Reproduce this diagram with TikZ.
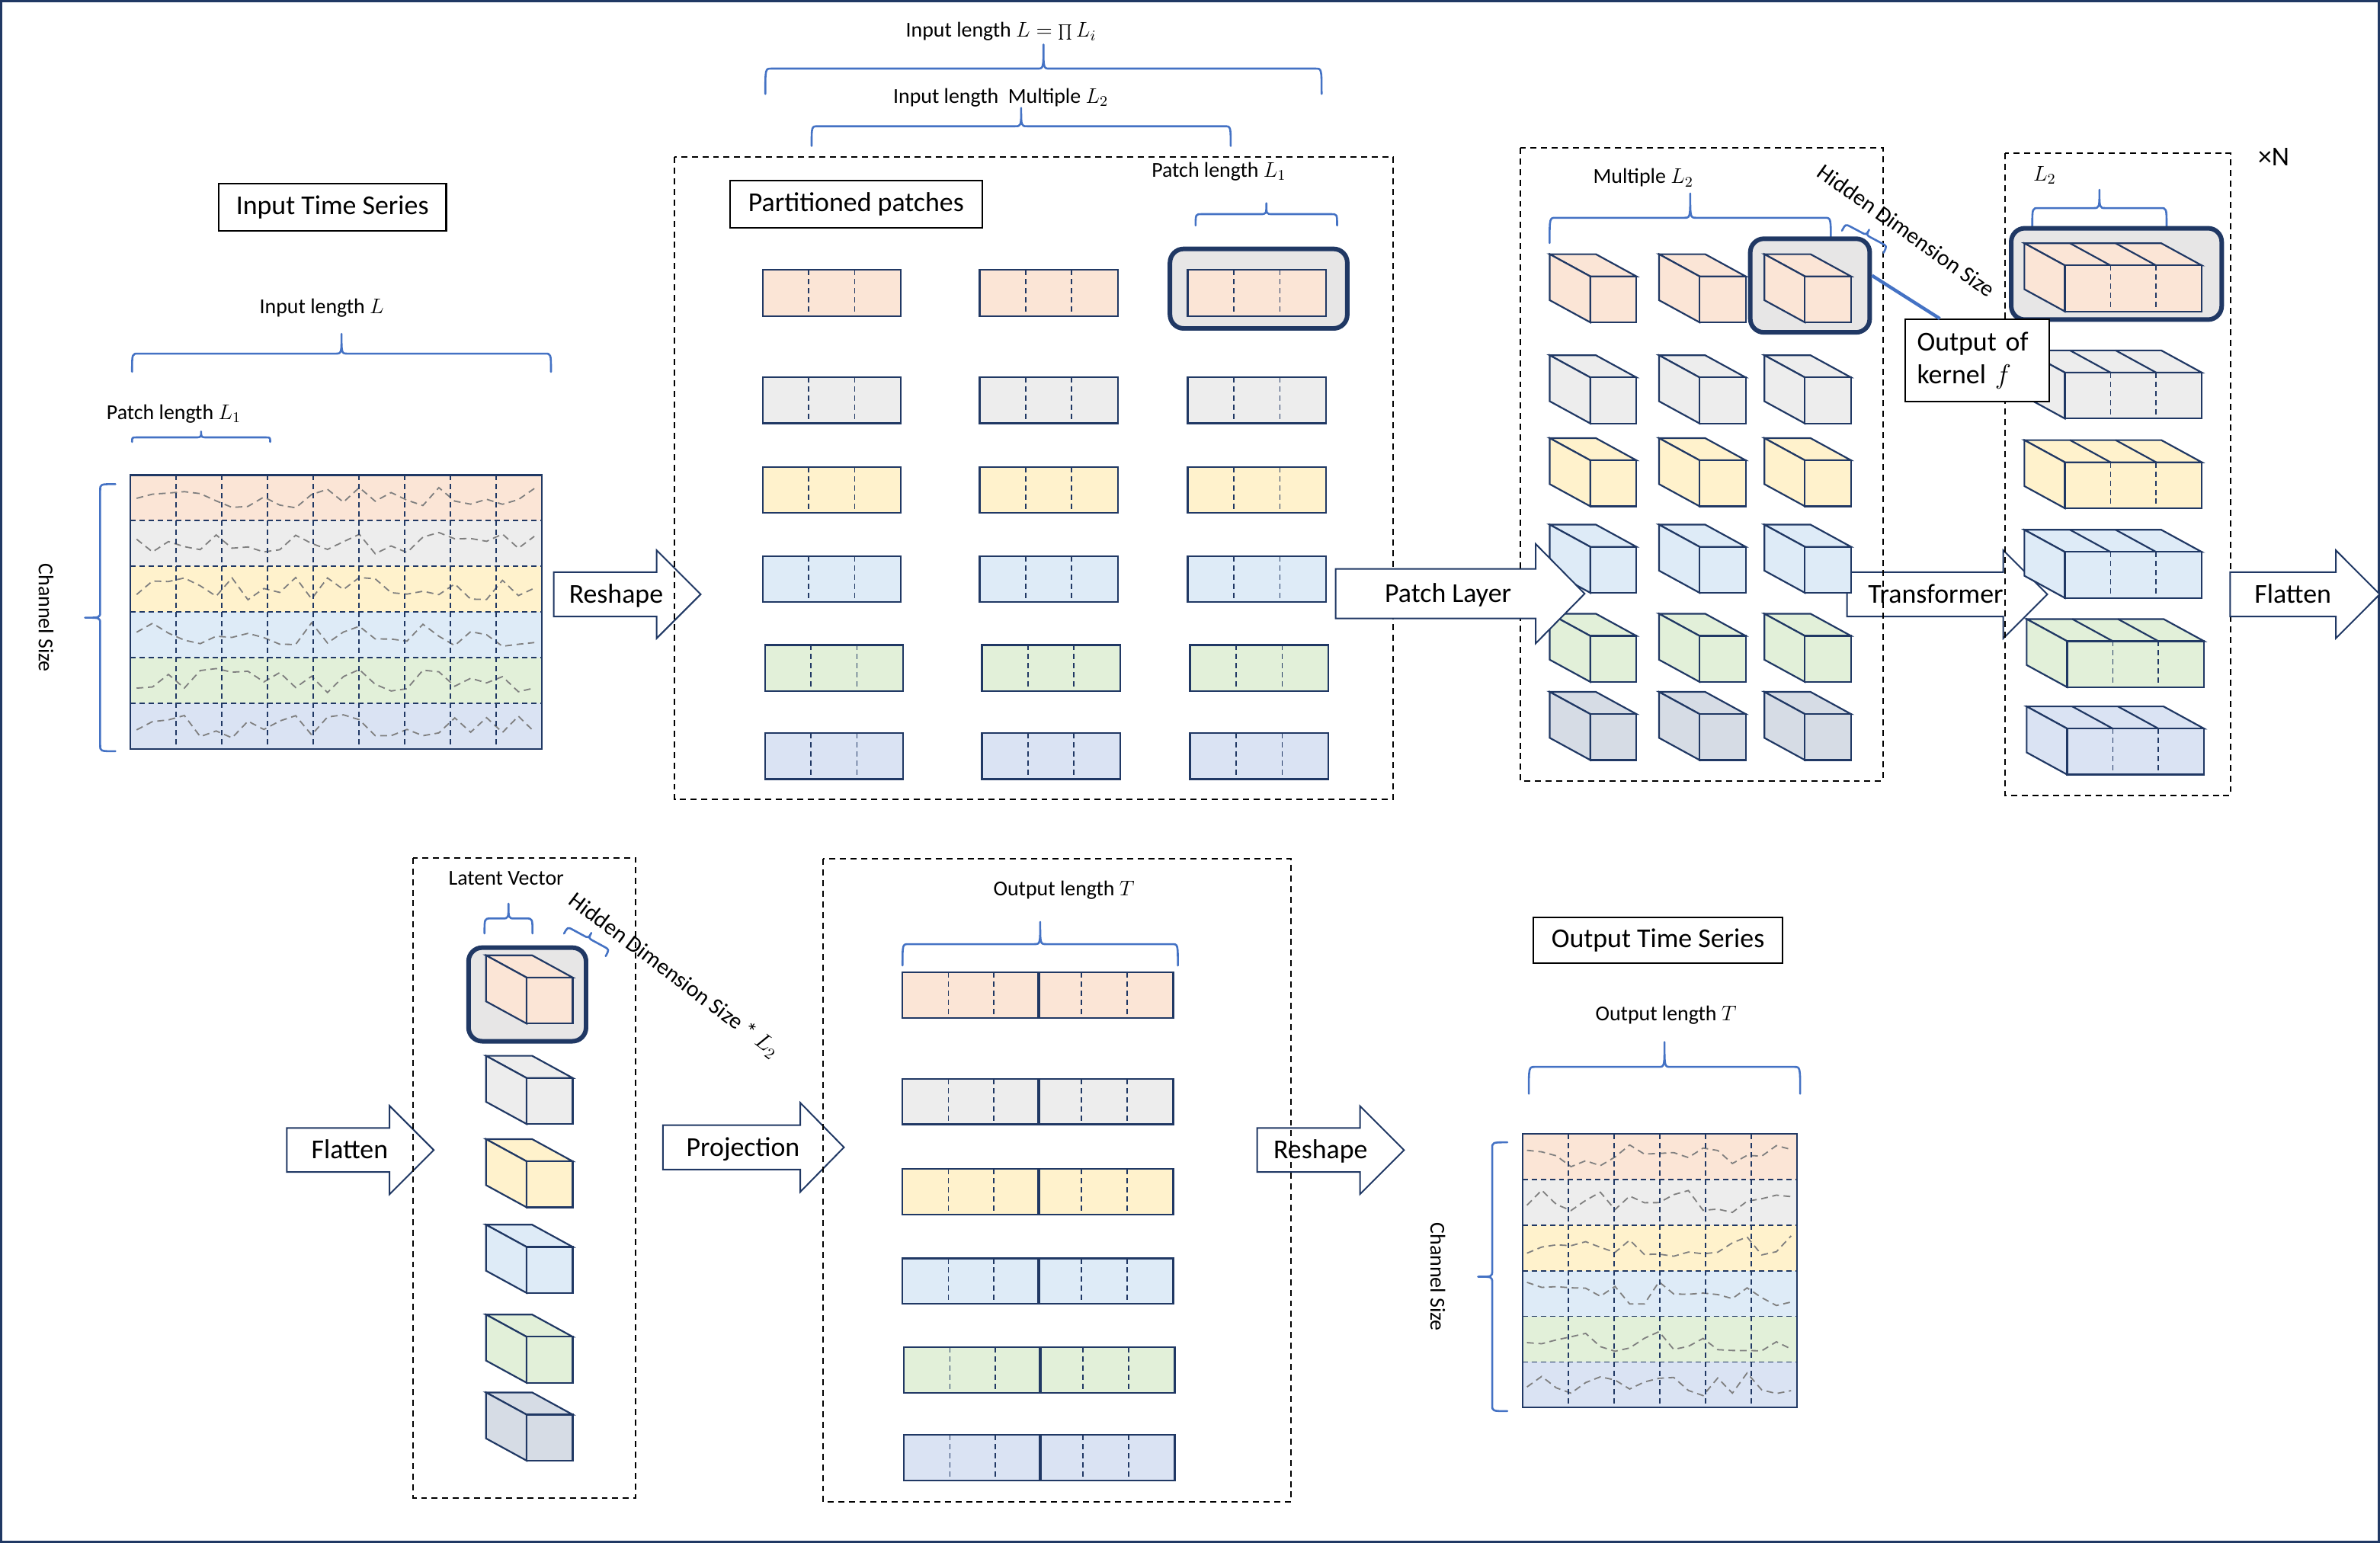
\RequirePackage{fix-cm}
\documentclass[tikz,border=0pt]{standalone}
\usepackage{fontspec}
\setmainfont{Carlito}
\usetikzlibrary{calc}
\definecolor{navy}{RGB}{32,56,100}
\definecolor{braceblue}{RGB}{68,114,196}
\definecolor{cPeach}{HTML}{FBE5D6}
\definecolor{cGray}{HTML}{EDEDED}
\definecolor{cYellow}{HTML}{FFF2CC}
\definecolor{cLBlue}{HTML}{DEEBF7}
\definecolor{cGreen}{HTML}{E2F0D9}
\definecolor{cBGray}{HTML}{DAE3F3}
\definecolor{cSlate}{HTML}{D6DCE5}
\definecolor{hlgray}{HTML}{E7E6E6}
\definecolor{seriesgray}{HTML}{7F7F7F}
\tikzset{
  bracestyle/.style={draw=braceblue, line width=1.3pt, line cap=round, line join=round},
  dbox/.style={draw=black, line width=1pt, dash pattern=on 4pt off 3pt},
  ttl/.style={draw=black, line width=1.1pt, fill=white, font=\fontsize{18}{21}\selectfont, inner sep=0pt},
  lbl/.style={font=\fontsize{14}{16}\selectfont, inner sep=0pt},
  albl/.style={font=\fontsize{18}{21}\selectfont, inner sep=0pt},
  ashape/.style={draw=navy, fill=white, line width=1pt, line join=miter},
  hlbox/.style={draw=navy, fill=hlgray, line width=3pt, rounded corners=9pt, inner sep=0pt},
  pline/.style={draw=navy, line width=1.1pt},
  pdash/.style={draw=navy, line width=0.9pt, dash pattern=on 3.5pt off 2.5pt},
  series/.style={draw=seriesgray, line width=0.9pt, dash pattern=on 4.5pt off 3pt},
}
\newcommand{\hbrace}[5]{%
  \pgfmathsetmacro{\bxm}{(#1+#2)/2}%
  \pgfmathsetmacro{\bre}{min(4,abs(#3-#4))}%
  \pgfmathsetmacro{\brt}{min(4,abs(#4-#5))}%
  \draw[bracestyle] (#1,#3) .. controls (#1,#4) .. (#1+\bre,#4) -- (\bxm-\brt,#4) .. controls (\bxm,#4) .. (\bxm,#5) .. controls (\bxm,#4) .. (\bxm+\brt,#4) -- (#2-\bre,#4) .. controls (#2,#4) .. (#2,#3);
}
\newcommand{\vbrace}[5]{%
  \pgfmathsetmacro{\bym}{(#1+#2)/2}%
  \pgfmathsetmacro{\bre}{min(4,abs(#3-#4))}%
  \pgfmathsetmacro{\brt}{min(4,abs(#4-#5))}%
  \draw[bracestyle] (#3,#1) .. controls (#4,#1) .. (#4,#1+\bre) -- (#4,\bym-\brt) .. controls (#4,\bym) .. (#5,\bym) .. controls (#4,\bym) .. (#4,\bym+\brt) -- (#4,#2-\bre) .. controls (#4,#2) .. (#3,#2);
}
\newcommand{\blockarrow}[6]{%
  \draw[ashape] (#1,#4-#5) -- (#2,#4-#5) -- (#2,#4-#6) -- (#3,#4) -- (#2,#4+#6) -- (#2,#4+#5) -- (#1,#4+#5) -- cycle;
}
\newcommand{\cubeone}[3]{%
  \filldraw[fill=#3, pline] (#1,#2) -- ++(-26.7,-14.6) -- ++(30.4,0) -- (#1+30.4,#2) -- cycle;
  \filldraw[fill=#3, pline] (#1,#2) -- ++(-26.7,-14.6) -- ++(0,30.3) -- (#1,#2+30.3) -- cycle;
  \filldraw[fill=#3, pline] (#1,#2) rectangle ++(30.4,30.3);
}
\newcommand{\cubebar}[3]{%
  \filldraw[fill=#3, pline] (#1,#2) -- ++(-26.7,-14.6) -- ++(90.2,0) -- (#1+90.2,#2) -- cycle;
  \filldraw[fill=#3, pline] (#1,#2) -- ++(-26.7,-14.6) -- ++(0,30.3) -- (#1,#2+30.3) -- cycle;
  \filldraw[fill=#3, pline] (#1,#2) rectangle ++(90.2,30.3);
  \foreach \k in {1,2} {
    \draw[pline] (#1+30.07*\k,#2) -- ++(-26.7,-14.6);
    \draw[pdash] (#1+30.07*\k,#2) -- ++(0,30.3);
  }
}
\newcommand{\patchbox}[3]{%
  \filldraw[fill=#3, pline] (#1,#2) rectangle ++(91,30.4);
  \draw[pdash] (#1+30.3,#2) -- ++(0,30.4) (#1+60.7,#2) -- ++(0,30.4);
}
\newcommand{\outbar}[3]{%
  \filldraw[fill=#3, pline] (#1,#2) rectangle ++(178.3,29.9);
  \draw[pdash] (#1+30.2,#2) -- ++(0,29.9) (#1+60.1,#2) -- ++(0,29.9) (#1+117.8,#2) -- ++(0,29.9) (#1+148,#2) -- ++(0,29.9);
  \draw[navy, line width=2.2pt] (#1+89.6,#2) -- ++(0,29.9);
}
\begin{document}
\begin{tikzpicture}[x=1pt, y=-1pt]
\useasboundingbox (0,0) rectangle (1568,1016.7);
\draw[navy, line width=1.5pt] (0.75,0.75) rectangle (1567.25,1015.95);

% ---------- arrows drawn beneath the dashed frames ----------
\blockarrow{364.8}{432.6}{461.6}{391.6}{14.6}{29}
\node[albl, anchor=base] (aReshape1) at (405.9,397.4) {Reshape};
\blockarrow{1216.9}{1319.8}{1348.8}{391.6}{14.6}{29}
\node[albl, anchor=base] (aTrans) at (1275.3,397.4) {Transformer};
\blockarrow{189}{256.6}{285.8}{757.8}{14.5}{29.2}
\node[albl, anchor=base] (aFlat2) at (230.4,763.6) {Flatten};
\blockarrow{436.7}{527.3}{556}{756}{14.6}{29.3}
\node[albl, anchor=base] (aProj) at (489.5,761.8) {Projection};
\blockarrow{828.2}{896}{925}{757.8}{14.5}{29}
\node[albl, anchor=base] (aReshape2) at (870,763.6) {Reshape};

% ---------- dashed frames ----------
\draw[dbox] (444.3,103.4) rectangle (917.8,526.6);
\draw[dbox] (1001.5,97.3) rectangle (1240.6,514.5);
\draw[dbox] (1320.9,101.1) rectangle (1469.5,524.2);
\draw[dbox] (272.2,565.2) rectangle (418.9,987);
\draw[dbox] (542.4,565.8) rectangle (850.4,989.8);

% ---------- input time series ----------
\node[ttl, minimum width=150pt, minimum height=31pt] (tInTS) at (219,136.5) {Input Time Series};
\node[lbl, anchor=base] (tInLen) at (212,206.5) {Input length $L$};
\hbrace{87}{363}{245}{233}{220}
\node[lbl, anchor=base] (tPatchLen1) at (114.5,276.5) {Patch length $L_1$};
\hbrace{87}{178}{291.2}{288.2}{284.3}
\foreach \c [count=\i from 0] in {cPeach,cGray,cYellow,cLBlue,cGreen,cBGray} {
  \fill[\c] (86,313+30.1*\i) rectangle ++(271,30.1);
}
\pgfmathsetseed{11}
\foreach \i in {0,...,5} {
  \draw[series] plot[domain=90:352, samples=26] (\x, {328.05+30.1*\i+8*rand});
}
\foreach \i in {1,...,5} { \draw[pdash] (86,313+30.1*\i) -- ++(271,0); }
\foreach \i in {1,...,8} { \draw[pdash] (86+30.11*\i,313) -- ++(0,180.6); }
\draw[pline] (86,313) rectangle (357,493.6);
\vbrace{319}{495}{76}{66}{56}
\node[lbl, rotate=-90] (tCh1) at (30.3,407) {Channel Size};

% ---------- partitioned patches ----------
\node[lbl, anchor=base] (tTopLen) at (659.5,24.6) {Input length $L = \prod L_i$};
\hbrace{504.2}{870.7}{61.9}{45.2}{29.3}
\node[lbl, anchor=base] (tMidLen) at (659.3,68.1) {Input length\ \ Multiple $L_2$};
\hbrace{534.7}{810.8}{96.2}{83.2}{71.1}
\node[ttl, minimum width=166pt, minimum height=31pt] (tPart) at (564,134.5) {Partitioned patches};
\node[lbl, anchor=base] (tPatchLen2) at (803,116.6) {Patch length $L_1$};
\hbrace{787.7}{880.9}{148.6}{141.1}{133.9}
\node[hlbox, minimum width=116.8pt, minimum height=52.4pt] (hlPatch) at (829.2,190.2) {};
\foreach \yy/\cc/\dx in {177.9/cPeach/0, 248.5/cGray/0, 307.7/cYellow/0, 366.4/cLBlue/0, 425/cGreen/1.5, 483/cBGray/1.5} {
  \patchbox{502.4+\dx}{\yy}{\cc}
  \patchbox{645.4+\dx}{\yy}{\cc}
  \patchbox{782.5+\dx}{\yy}{\cc}
}

% ---------- patch layer ----------
\node[lbl, anchor=base] (tMult) at (1082.6,121) {Multiple $L_2$};
\hbrace{1020.9}{1206.2}{160.1}{143.5}{127.5}
\node[hlbox, minimum width=78.7pt, minimum height=61.7pt] (hlCube) at (1192.45,188.15) {};
\foreach \yy/\cc in {182.1/cPeach, 248.7/cGray, 303.3/cYellow, 360.3/cLBlue, 419/cGreen, 470.5/cSlate} {
  \cubeone{1047.7}{\yy}{\cc}
  \cubeone{1119.7}{\yy}{\cc}
  \cubeone{1189.1}{\yy}{\cc}
}
\begin{scope}[shift={(1227.2,159.3)}, rotate=-28]
  \hbrace{-15.5}{15.5}{0}{-5}{-9}
\end{scope}
\node[lbl, rotate=-35.5, font=\fontsize{15}{17}\selectfont] (tHid1) at (1256,152) {Hidden Dimension Size};

\blockarrow{880}{1011.7}{1044}{391.2}{16.3}{32.8}
\node[albl, anchor=base] (aPatch) at (954,397) {Patch Layer};

% ---------- transformer output ----------
\node[lbl, anchor=base] (tL2) at (1347,119.4) {$L_2$};
\node[font=\fontsize{18}{21}\selectfont, inner sep=0pt, anchor=base] (tN) at (1498,109) {×N};
\hbrace{1338.9}{1427.4}{149.5}{137.1}{125}
\node[hlbox, minimum width=138.7pt, minimum height=60.2pt] (hlBar) at (1394.35,180.5) {};
\foreach \yy/\cc/\dx in {174.9/cPeach/0, 245.5/cGray/0, 304.6/cYellow/0, 363.7/cLBlue/0, 422.5/cGreen/1.5, 480.1/cBGray/1.5} {
  \cubebar{1360.4+\dx}{\yy}{\cc}
}
\node[draw=black, line width=1.1pt, fill=white, minimum width=95pt, minimum height=54pt, text width=79pt, align=left, inner xsep=8pt, inner ysep=0pt, font=\fontsize{18}{21.7}\selectfont] (kbox) at (1302.5,237.5) {Output of\\kernel $f$};
\draw[braceblue, line width=2.2pt] ([yshift=6.6pt]hlCube.east) -- ([xshift=-24.5pt]kbox.north);

\blockarrow{1469.3}{1538.9}{1567.8}{391.6}{14.6}{29}
\node[albl, anchor=base] (aFlat1) at (1510.6,397.4) {Flatten};

% ---------- latent vector ----------
\node[lbl, anchor=base] (tLatent) at (333.5,583) {Latent Vector};
\hbrace{319.2}{350.8}{615.1}{605.2}{595.4}
\node[hlbox, minimum width=77.4pt, minimum height=61.7pt] (hlLat) at (347.4,655.25) {};
\foreach \yy/\cc in {644.1/cPeach, 710.3/cGray, 765.2/cYellow, 821.6/cLBlue, 880.8/cGreen, 932.1/cSlate} {
  \cubeone{346.9}{\yy}{\cc}
}
\begin{scope}[shift={(385.3,622.6)}, rotate=-28.5]
  \hbrace{-15.6}{15.6}{0}{-5}{-9}
\end{scope}
\node[lbl, rotate=-37, font=\fontsize{15}{17}\selectfont] (tHid2) at (444,643) {Hidden Dimension Size * $L_2$};

% ---------- projection output ----------
\node[lbl, anchor=base] (tOutLen1) at (701,590) {Output length $T$};
\hbrace{594.6}{776}{636.2}{622.1}{607.5}
\foreach \yy/\cc/\dx in {640.7/cPeach/0, 710.9/cGray/0, 770.3/cYellow/0, 829.2/cLBlue/0, 887.8/cGreen/1, 945.6/cBGray/1} {
  \outbar{594.6+\dx}{\yy}{\cc}
}

% ---------- output time series ----------
\node[ttl, minimum width=164pt, minimum height=30.3pt] (tOutTS) at (1092.3,619.5) {Output Time Series};
\node[lbl, anchor=base] (tOutLen2) at (1097.6,672.5) {Output length $T$};
\hbrace{1007.2}{1186}{720.7}{703}{686.6}
\foreach \c [count=\i from 0] in {cPeach,cGray,cYellow,cLBlue,cGreen,cBGray} {
  \fill[\c] (1003,747.1+30.07*\i) rectangle ++(180.9,30.07);
}
\pgfmathsetseed{23}
\foreach \i in {0,...,5} {
  \draw[series] plot[domain=1006:1180, samples=19] (\x, {762.1+30.07*\i+8*rand});
}
\foreach \i in {1,...,5} { \draw[pdash] (1003,747.1+30.07*\i) -- ++(180.9,0); }
\foreach \i in {1,...,5} { \draw[pdash] (1003+30.15*\i,747.1) -- ++(0,180.4); }
\draw[pline] (1003,747.1) rectangle (1183.9,927.5);
\vbrace{752.7}{929.8}{993.1}{983.1}{973.7}
\node[lbl, rotate=-90] (tCh2) at (947.3,841.3) {Channel Size};
\end{tikzpicture}
\end{document}
